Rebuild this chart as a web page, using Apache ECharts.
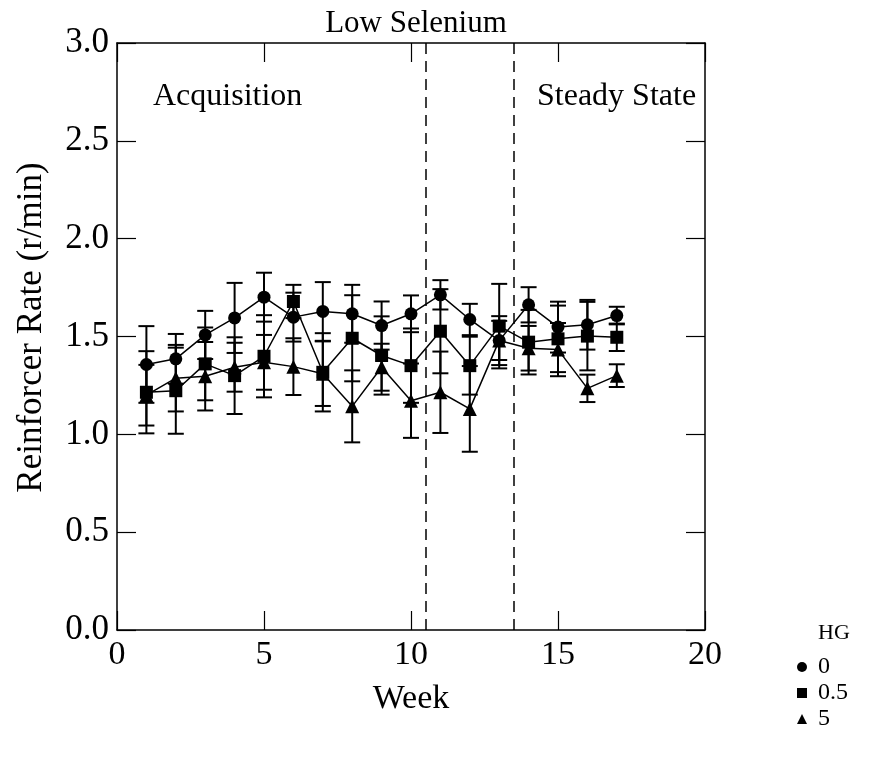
<!DOCTYPE html>
<html><head><meta charset="utf-8">
<script src="https://cdn.jsdelivr.net/npm/echarts@6/dist/echarts.min.js"></script>
<style>html,body{margin:0;padding:0;background:#fff}#c{width:887px;height:774px}</style>
</head><body><div id="c"></div>
<script>
const weeks = [1,2,3,4,5,6,7,8,9,10,11,12,13,14,15,16,17];
const hg0 = [1.357,1.386,1.508,1.595,1.701,1.599,1.628,1.616,1.556,1.616,1.713,1.587,1.479,1.662,1.548,1.56,1.607];
const hg0Err = [0.196,0.127,0.123,0.179,0.125,0.125,0.15,0.148,0.123,0.094,0.075,0.08,0.125,0.09,0.13,0.127,0.045];
const hg05 = [1.215,1.223,1.36,1.30,1.399,1.679,1.317,1.491,1.403,1.351,1.527,1.351,1.553,1.471,1.488,1.502,1.496];
const hg05Err = [0.21,0.22,0.186,0.196,0.21,0.085,0.2,0.22,0.2,0.19,0.215,0.148,0.216,0.165,0.17,0.175,0.07];
const hg5 = [1.20,1.287,1.297,1.343,1.368,1.346,1.31,1.143,1.343,1.172,1.215,1.13,1.48,1.44,1.433,1.235,1.30];
const hg5Err = [0.155,0.17,0.175,0.125,0.14,0.145,0.165,0.184,0.12,0.19,0.208,0.219,0.1,0.114,0.136,0.07,0.058];
const phaseLines = [10.5, 13.5];

const FONT = 'Liberation Serif';
const chart = echarts.init(document.getElementById('c'));

function errData(vals, errs){ return weeks.map((w,i)=>[w, vals[i]-errs[i], vals[i]+errs[i]]); }
function errSeries(vals, errs){
  return {
    type:'custom', xAxisIndex:0, yAxisIndex:0, silent:true, z:2,
    data: errData(vals, errs),
    renderItem: function(params, api){
      const x = api.value(0), lo = api.value(1), hi = api.value(2);
      const pLo = api.coord([x, lo]), pHi = api.coord([x, hi]);
      const hw = 8;
      const st = {stroke:'#000', lineWidth:2};
      return {type:'group', children:[
        {type:'line', shape:{x1:pLo[0],y1:pLo[1],x2:pHi[0],y2:pHi[1]}, style:st},
        {type:'line', shape:{x1:pLo[0]-hw,y1:pLo[1],x2:pLo[0]+hw,y2:pLo[1]}, style:st},
        {type:'line', shape:{x1:pHi[0]-hw,y1:pHi[1],x2:pHi[0]+hw,y2:pHi[1]}, style:st}
      ]};
    }
  };
}
function lineSeries(name, vals, symbol, size){
  return {
    name, type:'line', xAxisIndex:0, yAxisIndex:0, z:3,
    data: weeks.map((w,i)=>[w, vals[i]]),
    symbol, symbolSize:size, showAllSymbol:true,
    itemStyle:{color:'#000'}, lineStyle:{color:'#000', width:1.5},
    emphasis:{disabled:true}
  };
}

const axisCommon = {
  axisLine:{show:true, onZero:false, lineStyle:{color:'#000', width:1.5}},
  axisTick:{show:true, inside:true, length:19, lineStyle:{color:'#000', width:1.2}},
  splitLine:{show:false}
};

chart.setOption({
  animation:false,
  backgroundColor:'#fff',
  grid:{left:117, right:182, top:43, bottom:144},
  title:{text:'Low Selenium', left:411, top:3, textAlign:'center',
    textStyle:{fontFamily:FONT, fontSize:31, fontWeight:'normal', color:'#000'}},
  legend:{
    orient:'vertical', left:792, top:650, itemGap:2, itemWidth:10, itemHeight:10,
    data:[{name:'0', icon:'circle'},{name:'0.5', icon:'rect'},{name:'5', icon:'triangle'}],
    textStyle:{fontFamily:FONT, fontSize:24, lineHeight:23, color:'#000', padding:[0,0,0,6]}
  },
  graphic:[
    {type:'text', left:818, top:622, style:{text:'HG', fontFamily:FONT, fontSize:22, fill:'#000'}},
    {type:'text', left:153, top:81, style:{text:'Acquisition', fontFamily:FONT, fontSize:32, fill:'#000'}},
    {type:'text', left:537, top:81, style:{text:'Steady State', fontFamily:FONT, fontSize:32, fill:'#000'}}
  ],
  xAxis:[
    Object.assign({type:'value', min:0, max:20, interval:5, position:'bottom',
      name:'Week', nameLocation:'middle', nameGap:52,
      nameTextStyle:{fontFamily:FONT, fontSize:34, color:'#000'},
      axisLabel:{fontFamily:FONT, fontSize:34, color:'#000', margin:8}}, axisCommon),
    Object.assign({type:'value', min:0, max:20, interval:5, position:'top',
      axisLabel:{show:false}}, axisCommon)
  ],
  yAxis:[
    Object.assign({type:'value', min:0, max:3, interval:0.5, position:'left',
      name:'Reinforcer Rate (r/min)', nameLocation:'middle', nameGap:68, nameRotate:90,
      nameTextStyle:{fontFamily:FONT, fontSize:35, color:'#000', padding:[0,0,0,18]},
      axisLabel:{fontFamily:FONT, fontSize:35, color:'#000', margin:8,
        formatter:v=>v.toFixed(1)}}, axisCommon),
    Object.assign({type:'value', min:0, max:3, interval:0.5, position:'right',
      axisLabel:{show:false}}, axisCommon)
  ],
  series:[
    errSeries(hg0, hg0Err),
    errSeries(hg05, hg05Err),
    errSeries(hg5, hg5Err),
    lineSeries('0', hg0, 'circle', 13),
    lineSeries('0.5', hg05, 'rect', 13),
    Object.assign(lineSeries('5', hg5, 'triangle', 14), {
      markLine:{silent:true, symbol:'none', label:{show:false},
        lineStyle:{color:'#000', width:1.5, type:[11,7]},
        data: phaseLines.map(v=>({xAxis:v}))}
    })
  ]
});
</script></body></html>
